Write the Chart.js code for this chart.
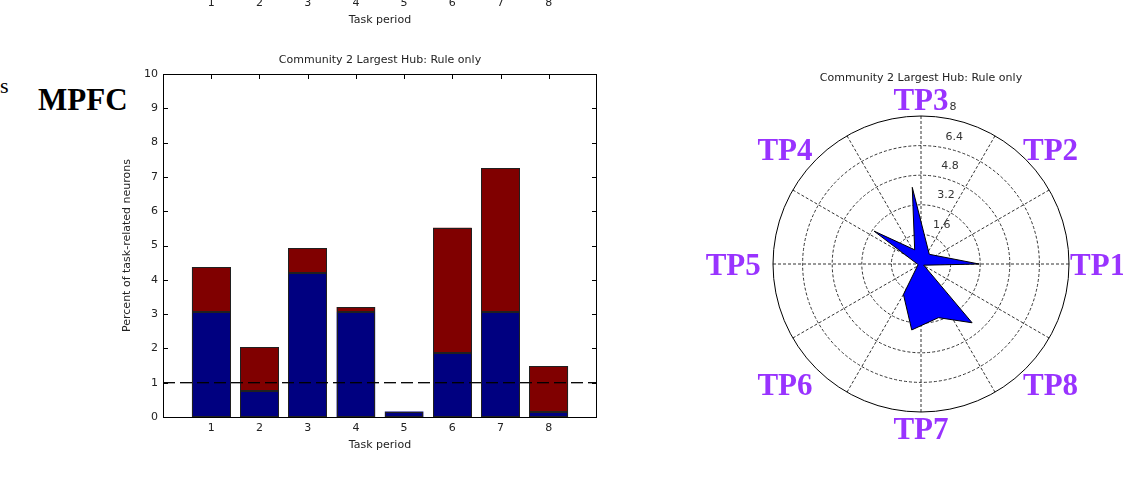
<!DOCTYPE html>
<html>
<head>
<meta charset="utf-8">
<script src="https://cdn.jsdelivr.net/npm/chart.js@4.4.1/dist/chart.umd.min.js"></script>
<style>
  body { margin: 0; width: 1123px; height: 478px; background: #fff; position: relative; overflow: hidden; }
  .box { position: absolute; }
  #bar-box { left: 100px; top: 0; width: 540px; height: 478px; }
  #polar-box { left: 700px; top: 60px; width: 423px; height: 418px; }
  .serif { position: absolute; font-family: 'Liberation Serif', serif; line-height: 1; color: #000; }
  #panel-s { left: 0; top: 75px; font-size: 22px; }
  #panel-name { left: 38px; top: 83.5px; font-size: 31px; font-weight: bold; }
</style>
</head>
<body>
<div id="panel-s" class="serif">s</div>
<div id="panel-name" class="serif">MPFC</div>
<div id="bar-box" class="box"><canvas id="bars"></canvas></div>
<div id="polar-box" class="box"><canvas id="polar"></canvas></div>
<script>
// Data
const taskPeriods = ['1', '2', '3', '4', '5', '6', '7', '8'];
const lowerPart = [3.06, 0.75, 4.2, 3.06, 0.16, 1.88, 3.06, 0.16];   // navy segment
const upperPart = [1.31, 1.29, 0.73, 0.15, null, 3.64, 4.2, 1.33];   // dark red segment
const thresholdLevel = 1;
const chartTitle = 'Community 2 Largest Hub: Rule only';

// Polar outline vertices (degrees, percent)
const polarAngles = [0, 49.5, 96.5, 114, 145, 192, 240, 262, 288, 311, 336];
const polarRadii = [3.14, 0.69, 4.17, 0.84, 3.1, 0.16, 1.9, 3.6, 3.05, 4.21, 0.16];
const ringTicks = [1.6, 3.2, 4.8, 6.4, 8];
const ringLabels = ['1.6', '3.2', '4.8', '6.4', '8'];
const tpLabels = ['TP1', 'TP2', 'TP3', 'TP4', 'TP5', 'TP6', 'TP7', 'TP8'];

Chart.defaults.font.family = "'DejaVu Sans', sans-serif";
Chart.defaults.font.size = 11;
Chart.defaults.color = '#222';

// Matlab style frame, inward ticks, bar edges, title and the cut-off axis above
const matlabAxes = {
  id: 'matlabAxes',
  beforeDatasetsDraw(chart) {
    const { ctx, chartArea: a, scales: { x, y } } = chart;
    ctx.save();
    ctx.strokeStyle = '#000';
    ctx.lineWidth = 1;
    ctx.beginPath();
    for (let v = 0; v <= 10; v++) {
      const py = Math.round(y.getPixelForValue(v)) + 0.5;
      ctx.moveTo(a.left, py); ctx.lineTo(a.left + 5, py);
      ctx.moveTo(a.right, py); ctx.lineTo(a.right - 5, py);
    }
    taskPeriods.forEach((t, i) => {
      const px = Math.round(x.getPixelForValue(i + 1)) + 0.5;
      ctx.moveTo(px, a.top); ctx.lineTo(px, a.top + 5);
      ctx.moveTo(px, a.bottom); ctx.lineTo(px, a.bottom - 5);
    });
    ctx.stroke();
    ctx.restore();
  },
  afterDatasetsDraw(chart) {
    const { ctx } = chart;
    ctx.save();
    ctx.strokeStyle = '#202020';
    ctx.lineWidth = 1;
    chart.data.datasets.forEach((ds, di) => {
      const meta = chart.getDatasetMeta(di);
      if (meta.type !== 'bar') return;
      meta.data.forEach(bar => {
        const p = bar.getProps(['x', 'y', 'base', 'width'], true);
        if (p.y == null || isNaN(p.y) || Math.abs(p.base - p.y) < 0.5) return;
        const l = Math.round(p.x - p.width / 2) + 0.5;
        const r = Math.round(p.x + p.width / 2) - 0.5;
        const t = Math.round(Math.min(p.y, p.base)) + 0.5;
        const b = Math.round(Math.max(p.y, p.base)) - 0.5;
        ctx.strokeRect(l, t, r - l, b - t);
      });
    });
    // threshold line sits on top of the bars
    const line = chart.getDatasetMeta(0);
    if (line.dataset) line.dataset.draw(ctx, chart.chartArea);
    ctx.restore();
  },
  afterDraw(chart) {
    const { ctx, chartArea: a, scales: { x } } = chart;
    ctx.save();
    ctx.strokeStyle = '#000';
    ctx.lineWidth = 1;
    ctx.strokeRect(Math.round(a.left) + 0.5, Math.round(a.top) + 0.5,
      Math.round(a.right - a.left) - 1, Math.round(a.bottom - a.top));
    ctx.fillStyle = '#222';
    ctx.font = "11px 'DejaVu Sans'";
    ctx.textAlign = 'center';
    ctx.textBaseline = 'middle';
    ctx.fillText(chartTitle, (a.left + a.right) / 2, a.top - 14);
    // bottom of the panel above, cut by the page edge
    taskPeriods.forEach((t, i) => ctx.fillText(t, x.getPixelForValue(i + 1), 3));
    ctx.fillText('Task period', (a.left + a.right) / 2, 20);
    ctx.restore();
  }
};

new Chart(document.getElementById('bars'), {
  type: 'bar',
  data: {
    datasets: [
      {
        type: 'line',
        label: 'threshold',
        stack: 'ref',
        data: [{ x: 0, y: thresholdLevel }, { x: 9, y: thresholdLevel }],
        borderColor: '#000',
        borderWidth: 1,
        borderDash: [12, 5],
        pointRadius: 0,
        order: -1
      },
      {
        label: 'lower',
        data: lowerPart.map((v, i) => ({ x: i + 1, y: v })),
        backgroundColor: '#000080',
        borderWidth: 0,
        inflateAmount: 0,
        barPercentage: 0.8,
        categoryPercentage: 1
      },
      {
        label: 'upper',
        data: upperPart.map((v, i) => ({ x: i + 1, y: v })),
        backgroundColor: '#800000',
        borderWidth: 0,
        inflateAmount: 0,
        barPercentage: 0.8,
        categoryPercentage: 1
      }
    ]
  },
  options: {
    responsive: true,
    maintainAspectRatio: false,
    animation: false,
    devicePixelRatio: 1,
    layout: { padding: { left: 0, right: 43, top: 74, bottom: 21 } },
    plugins: { legend: { display: false }, tooltip: { enabled: false } },
    scales: {
      x: {
        type: 'linear',
        min: 0,
        max: 9,
        offset: false,
        stacked: true,
        grid: { display: false, drawTicks: false },
        border: { display: false },
        ticks: {
          stepSize: 1,
          autoSkip: false,
          maxRotation: 0,
          padding: 5,
          callback: (v) => taskPeriods[v - 1] || ''
        },
        title: { display: true, text: 'Task period', padding: { top: 0, bottom: 5 } },
        afterFit: (s) => { s.height = 40; }
      },
      y: {
        min: 0,
        max: 10,
        stacked: true,
        grid: { display: false, drawTicks: false },
        border: { display: false },
        ticks: { stepSize: 1, padding: 5 },
        title: { display: true, text: 'Percent of task-related neurons', padding: { top: 21, bottom: 0 } },
        afterFit: (s) => { s.width = 63; }
      }
    }
  },
  plugins: [matlabAxes]
});

// Polar grid, ring labels, TP labels
const polarGrid = {
  id: 'polarGrid',
  beforeDatasetsDraw(chart) {
    const { ctx, scales: { x, y } } = chart;
    const cx = x.getPixelForValue(0);
    const cy = y.getPixelForValue(0);
    const unit = x.getPixelForValue(1) - cx;
    const rMax = ringTicks[ringTicks.length - 1];
    ctx.save();
    ctx.lineWidth = 1;
    ctx.strokeStyle = '#333';
    ctx.setLineDash([3, 2]);
    ringTicks.slice(0, -1).forEach(r => {
      ctx.beginPath();
      ctx.arc(cx, cy, r * unit, 0, Math.PI * 2);
      ctx.stroke();
    });
    for (let deg = 0; deg < 360; deg += 30) {
      const t = deg * Math.PI / 180;
      ctx.beginPath();
      ctx.moveTo(cx, cy);
      ctx.lineTo(cx + rMax * unit * Math.cos(t), cy - rMax * unit * Math.sin(t));
      ctx.stroke();
    }
    ctx.setLineDash([]);
    ctx.strokeStyle = '#000';
    ctx.beginPath();
    ctx.arc(cx, cy, rMax * unit, 0, Math.PI * 2);
    ctx.stroke();
    ctx.fillStyle = '#333';
    ctx.font = "11px 'DejaVu Sans'";
    ctx.textAlign = 'left';
    ctx.textBaseline = 'middle';
    const lt = 82 * Math.PI / 180;
    ringTicks.forEach((r, i) => {
      ctx.fillText(ringLabels[i], cx + r * unit * Math.cos(lt) + 8, cy - r * unit * Math.sin(lt) - 10);
    });
    ctx.restore();
  },
  afterDraw(chart) {
    const { ctx, chartArea: a, scales: { x, y } } = chart;
    const cx = x.getPixelForValue(0);
    const cy = y.getPixelForValue(0);
    const unit = x.getPixelForValue(1) - cx;
    ctx.save();
    ctx.fillStyle = '#222';
    ctx.font = "11px 'DejaVu Sans'";
    ctx.textAlign = 'center';
    ctx.textBaseline = 'middle';
    ctx.fillText(chartTitle, cx, a.top - 38);
    ctx.fillStyle = '#9933ff';
    ctx.font = "bold 31px 'Liberation Serif'";
    tpLabels.forEach((lbl, i) => {
      const t = i * Math.PI / 4;
      const c = Math.cos(t), s = Math.sin(t);
      const diagonal = Math.abs(c) > 0.1 && Math.abs(s) > 0.1;
      let px = cx + 9.55 * unit * c;
      if (c < -0.1) px -= 0.6 * unit;
      else if (diagonal) px += 0.25 * unit;
      let py = cy - 8.9 * unit * s + 2.5;
      if (diagonal) py += s > 0 ? 2 : 4;
      ctx.fillText(lbl, px, py);
    });
    ctx.restore();
  }
};

const outline = polarAngles.map((deg, i) => {
  const t = deg * Math.PI / 180;
  return { x: polarRadii[i] * Math.cos(t), y: polarRadii[i] * Math.sin(t) };
});
outline.push(outline[0]);

new Chart(document.getElementById('polar'), {
  type: 'scatter',
  data: {
    datasets: [{
      label: 'hub',
      data: outline,
      showLine: true,
      fill: 'shape',
      tension: 0,
      backgroundColor: '#0000ff',
      borderColor: '#000',
      borderWidth: 1,
      pointRadius: 0
    }]
  },
  options: {
    responsive: true,
    maintainAspectRatio: false,
    animation: false,
    devicePixelRatio: 1,
    layout: { padding: { left: 73, right: 54, top: 56, bottom: 66 } },
    plugins: { legend: { display: false }, tooltip: { enabled: false } },
    scales: {
      x: { type: 'linear', min: -8, max: 8, display: false },
      y: { type: 'linear', min: -8, max: 8, display: false }
    }
  },
  plugins: [polarGrid]
});
</script>
</body>
</html>
